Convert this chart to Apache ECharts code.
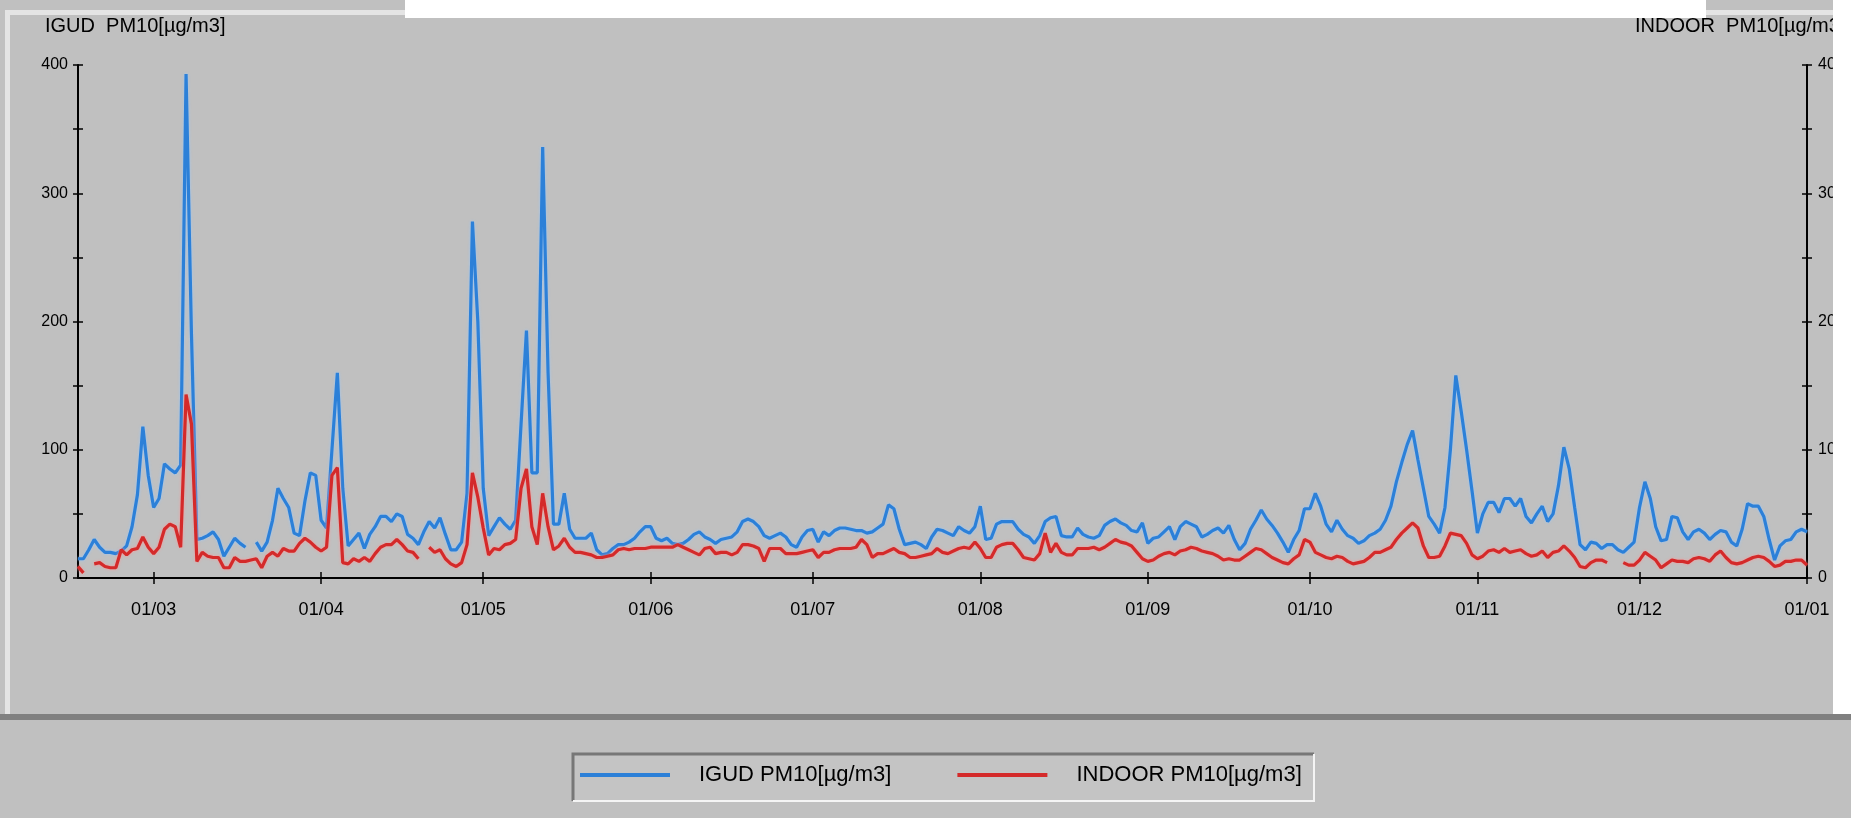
<!DOCTYPE html>
<html>
<head>
<meta charset="utf-8">
<script src="https://cdn.jsdelivr.net/npm/echarts@6/dist/echarts.min.js"></script>
<style>
  html, body { margin: 0; padding: 0; background: #c0c0c0; }
  #chart { width: 1851px; height: 818px; }
</style>
</head>
<body>
<div id="chart"></div>
<script>
// daily values, first day 15/02, last day 01/01
var startDay = Date.UTC(2011, 1, 15);
var igud = [
  15, 15, 22, 30, 24, 20, 20, 19, 21, 25,
  40, 65, 118, 80, 55, 62, 89, 85, 82, 88,
  393, 190, 30, 31, 33, 36, 30, 17, 24, 31,
  27, 24, null, 28, 21, 28, 45, 70, 62, 55,
  35, 33, 60, 82, 80, 45, 39, 100, 160, 70,
  25, 30, 35, 23, 34, 40, 48, 48, 44, 50,
  48, 34, 31, 26, 36, 44, 39, 47, 34, 22,
  22, 28, 66, 278, 200, 70, 33, 40, 47, 42,
  38, 45, 120, 193, 82, 82, 336, 160, 42, 42,
  66, 38, 31, 31, 31, 35, 22, 18, 19, 23,
  26, 26, 28, 31, 36, 40, 40, 31, 29, 31,
  27, 26, 27, 30, 34, 36, 32, 30, 27, 30,
  31, 32, 36, 44, 46, 44, 40, 33, 31, 33,
  35, 32, 26, 24, 32, 37, 38, 28, 36, 33,
  37, 39, 39, 38, 37, 37, 35, 36, 39, 42,
  57, 54, 38, 26, 27, 28, 26, 23, 32, 38,
  37, 35, 33, 40, 37, 35, 40, 56, 30, 31,
  42, 44, 44, 44, 38, 34, 32, 27, 33, 44,
  47, 48, 33, 32, 32, 39, 34, 32, 31, 33,
  41, 44, 46, 43, 41, 37, 36, 43, 27, 31,
  32, 36, 40, 30, 40, 44, 42, 40, 32, 34,
  37, 39, 35, 41, 30, 22, 27, 38, 45, 53,
  46, 41, 35, 28, 20, 30, 37, 54, 54, 66,
  56, 42, 36, 45, 38, 33, 31, 27, 29, 33,
  35, 38, 45, 56, 75, 90, 104, 115, 92, 70,
  48, 42, 35, 55, 100, 158, 130, 100, 68, 35,
  50, 59, 59, 51, 62, 62, 56, 62, 48, 43,
  50, 56, 44, 50, 72, 102, 85, 55, 26, 22,
  28, 27, 23, 26, 26, 22, 20, 24, 28, 55,
  75, 62, 40, 29, 30, 48, 47, 36, 30, 36,
  38, 35, 30, 34, 37, 36, 28, 25, 38, 58,
  56, 56, 48, 30, 14, 25, 29, 30, 36, 38, 36
];
var indoor = [
  9, 4, null, 11, 12, 9, 8, 8, 22, 18,
  22, 23, 32, 24, 19, 24, 38, 42, 40, 24,
  143, 120, 13, 20, 17, 16, 16, 8, 8, 16,
  13, 13, 14, 15, 8, 17, 20, 17, 23, 21,
  21, 27, 31, 28, 24, 21, 24, 80, 86, 12,
  11, 15, 13, 16, 13, 19, 24, 26, 26, 30,
  26, 21, 20, 15, null, 24, 20, 22, 15, 11,
  9, 12, 26, 82, 63, 39, 18, 23, 22, 26,
  27, 30, 70, 85, 40, 26, 66, 40, 22, 25,
  31, 24, 20, 20, 19, 18, 16, 16, 17, 18,
  22, 23, 22, 23, 23, 23, 24, 24, 24, 24,
  24, 26, 24, 22, 20, 18, 23, 24, 19, 20,
  20, 18, 20, 26, 26, 25, 23, 13, 23, 23,
  23, 19, 19, 19, 20, 21, 22, 16, 20, 20,
  22, 23, 23, 23, 24, 30, 26, 16, 19, 19,
  21, 23, 20, 19, 16, 16, 17, 18, 19, 23,
  20, 19, 21, 23, 24, 23, 28, 23, 16, 16,
  24, 26, 27, 27, 22, 16, 15, 14, 19, 35,
  20, 27, 20, 18, 18, 23, 23, 23, 24, 22,
  24, 27, 30, 28, 27, 25, 20, 15, 13, 14,
  17, 19, 20, 18, 21, 22, 24, 23, 21, 20,
  19, 17, 14, 15, 14, 14, 17, 20, 23, 22,
  19, 16, 14, 12, 11, 15, 18, 30, 28, 20,
  18, 16, 15, 17, 16, 13, 11, 12, 13, 16,
  20, 20, 22, 24, 30, 35, 39, 43, 39, 25,
  16, 16, 17, 25, 35, 34, 33, 27, 18, 15,
  17, 21, 22, 20, 23, 20, 21, 22, 19, 17,
  18, 21, 16, 20, 21, 25, 21, 16, 9, 8,
  12, 14, 14, 12, null, null, 12, 10, 10, 14,
  20, 17, 14, 8, 11, 14, 13, 13, 12, 15,
  16, 15, 13, 18, 21, 16, 12, 11, 12, 14,
  16, 17, 16, 13, 9, 10, 13, 13, 14, 14, 10
];
// month ticks, labelled dd/mm
var monthTicks = [
  [2011, 2], [2011, 3], [2011, 4], [2011, 5], [2011, 6], [2011, 7],
  [2011, 8], [2011, 9], [2011, 10], [2011, 11], [2012, 0]
];

var DAY = 86400000;
function toPairs(arr) {
  return arr.map(function (v, i) { return [startDay + i * DAY, v]; });
}
var tickValues = monthTicks.map(function (m) { return Date.UTC(m[0], m[1], 1); });
function pad(n) { return (n < 10 ? '0' : '') + n; }
function monthLabel(v) {
  var d = new Date(v);
  return pad(d.getUTCDate()) + '/' + pad(d.getUTCMonth() + 1);
}

var font = '"Liberation Sans", Arial, sans-serif';
var xMin = startDay, xMax = tickValues[tickValues.length - 1];

function yAx(pos, inside, labels) {
  return {
    type: 'value', position: pos, min: 0, max: 400, interval: 50,
    axisLine: { show: !inside, lineStyle: { color: '#000', width: 2 } },
    axisTick: { show: true, inside: inside, length: 5, lineStyle: { color: '#000', width: 1.5 } },
    axisLabel: {
      show: labels, color: '#000', fontFamily: font, fontSize: 16,
      margin: pos === 'left' ? 10 : 11,
      formatter: function (v) { return v % 100 === 0 ? String(v) : ''; }
    },
    splitLine: { show: false }
  };
}
function xAx(inside, labels) {
  return {
    type: 'value', min: xMin, max: xMax, position: 'bottom',
    axisLine: { show: !inside, onZero: false, lineStyle: { color: '#000', width: 2 } },
    axisTick: { show: true, inside: inside, length: 6, customValues: tickValues, lineStyle: { color: '#000', width: 1.5 } },
    axisLabel: {
      show: labels, color: '#000', fontFamily: font, fontSize: 18, margin: 23,
      customValues: tickValues, formatter: monthLabel
    },
    splitLine: { show: false }
  };
}

var chart = echarts.init(document.getElementById('chart'), null, { renderer: 'canvas' });
var option = {
  animation: false,
  backgroundColor: '#c0c0c0',
  grid: { left: 78, right: 44, top: 65, bottom: 240, containLabel: false },
  xAxis: [xAx(false, true), xAx(true, false)],
  yAxis: [yAx('left', false, true), yAx('left', true, false), yAx('right', false, true), yAx('right', true, false)],
  legend: {
    left: 580, top: 764, padding: 0, itemGap: 66,
    itemWidth: 90, itemHeight: 4, icon: 'rect',
    textStyle: { color: '#000', fontFamily: font, fontSize: 22, padding: [0, 0, 0, 24] },
    data: ['IGUD PM10[µg/m3]', 'INDOOR PM10[µg/m3]']
  },
  graphic: [
    // panel bevel
    { type: 'rect', z: -10, shape: { x: 5, y: 10, width: 1828, height: 5 }, style: { fill: '#e4e4e4' } },
    { type: 'rect', z: -10, shape: { x: 5, y: 10, width: 5, height: 704 }, style: { fill: '#e4e4e4' } },
    { type: 'rect', z: -10, shape: { x: 0, y: 714, width: 1851, height: 6 }, style: { fill: '#808080' } },
    // legend box (sunken)
    { type: 'rect', z: -10, shape: { x: 572, y: 753, width: 743, height: 49 }, style: { fill: '#c4c4c4' } },
    { type: 'polyline', z: -9, shape: { points: [[573, 801], [573, 754], [1314, 754]] }, style: { stroke: '#777', lineWidth: 3, fill: null } },
    { type: 'polyline', z: -9, shape: { points: [[573, 801], [1314, 801], [1314, 754]] }, style: { stroke: '#f4f4f4', lineWidth: 2, fill: null } },
    // axis titles
    { type: 'text', z: 5, style: { x: 45, y: 26, text: 'IGUD  PM10[µg/m3]', fill: '#000', font: '20px "Liberation Sans", Arial, sans-serif', textVerticalAlign: 'middle' } },
    { type: 'text', z: 5, style: { x: 1635, y: 26, text: 'INDOOR  PM10[µg/m3]', fill: '#000', font: '20px "Liberation Sans", Arial, sans-serif', textVerticalAlign: 'middle' } },
    // white areas around the screenshot
    { type: 'rect', z: 100, shape: { x: 405, y: 0, width: 1301, height: 18 }, style: { fill: '#ffffff' } },
    { type: 'rect', z: 100, shape: { x: 1833, y: 0, width: 18, height: 714 }, style: { fill: '#ffffff' } }
  ],
  series: [
    {
      name: 'IGUD PM10[µg/m3]', type: 'line', xAxisIndex: 0, yAxisIndex: 0,
      data: toPairs(igud), showSymbol: false, connectNulls: false,
      color: '#2c80d8',
      lineStyle: { width: 3.2, color: '#2c80d8', shadowColor: 'rgba(150,200,255,0.9)', shadowBlur: 3 }
    },
    {
      name: 'INDOOR PM10[µg/m3]', type: 'line', xAxisIndex: 0, yAxisIndex: 2,
      data: toPairs(indoor), showSymbol: false, connectNulls: false,
      color: '#d42a2a',
      lineStyle: { width: 3.2, color: '#d42a2a', shadowColor: 'rgba(255,150,150,0.9)', shadowBlur: 3 }
    }
  ]
};
chart.setOption(option);
</script>
</body>
</html>
